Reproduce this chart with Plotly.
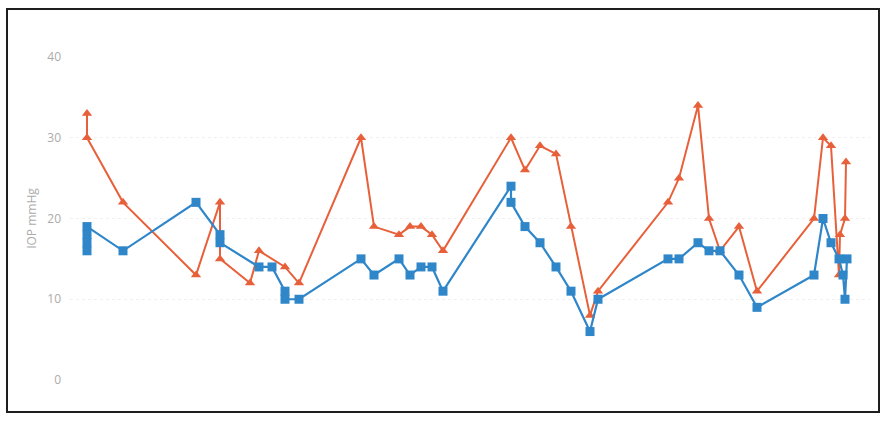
import plotly.graph_objects as go

# time positions (arbitrary units) and IOP values (mmHg)
red_x = [17, 17, 53, 126, 150, 150, 180, 189, 215, 229,
         291, 304, 329, 340, 351, 362, 373,
         441, 455, 470, 486, 501, 520, 528,
         598, 609, 628, 639, 650, 669, 687,
         744, 753, 761, 769, 770, 775, 776]
red_y = [33, 30, 22, 13, 22, 15, 12, 16, 14, 12,
         30, 19, 18, 19, 19, 18, 16,
         30, 26, 29, 28, 19, 8, 11,
         22, 25, 34, 20, 16, 19, 11,
         20, 30, 29, 13, 18, 20, 27]

blue_x = [17, 17, 17, 17, 53,
          126, 150, 150,
          189, 202, 215, 215, 229,
          291, 304, 329, 340, 351, 362, 373,
          441, 441, 455, 470, 486, 501, 520, 528,
          598, 609, 628, 639, 650, 669, 687,
          744, 753, 761, 769, 773, 775, 777]
blue_y = [16, 17, 18, 19, 16,
          22, 18, 17,
          14, 14, 11, 10, 10,
          15, 13, 15, 13, 14, 14, 11,
          24, 22, 19, 17, 14, 11, 6, 10,
          15, 15, 17, 16, 16, 13, 9,
          13, 20, 17, 15, 13, 10, 15]

y_ticks = [0, 10, 20, 30, 40]
y_title = "IOP mmHg"

RED = "#e8603a"
BLUE = "#2f86c9"

fig = go.Figure()
fig.add_trace(go.Scatter(
    x=red_x, y=red_y, mode="lines+markers",
    line=dict(color=RED, width=2),
    marker=dict(symbol="triangle-up", size=9, color=RED),
    showlegend=False, cliponaxis=False))
fig.add_trace(go.Scatter(
    x=blue_x, y=blue_y, mode="lines+markers",
    line=dict(color=BLUE, width=2.2),
    marker=dict(symbol="square", size=9, color=BLUE),
    showlegend=False, cliponaxis=False))

L, R, T, B = 70, 16, 57, 42
W, H = 886, 422
pw, ph = W - L - R, H - T - B

def px_to_paper_x(px):
    return (px - L) / pw

def px_to_paper_y(py):
    return (H - B - py) / ph

fig.add_shape(type="rect", xref="paper", yref="paper",
              x0=px_to_paper_x(7), x1=px_to_paper_x(879),
              y0=px_to_paper_y(412), y1=px_to_paper_y(9),
              line=dict(color="#1e1e1e", width=2), fillcolor="rgba(0,0,0,0)",
              layer="below")

fig.update_layout(
    width=W, height=H,
    margin=dict(l=L, r=R, t=T, b=B),
    paper_bgcolor="white", plot_bgcolor="white",
    font=dict(family="Open Sans, Liberation Sans, sans-serif", color="#ababab"),
    xaxis=dict(range=[0, pw], showgrid=False, zeroline=False,
               showticklabels=False, showline=False, ticks=""),
    yaxis=dict(range=[0, 40], tickvals=y_ticks, showgrid=True,
               gridcolor="#f0f0f0", griddash="dot", gridwidth=1,
               zeroline=False, showline=False, ticks="",
               tickfont=dict(size=12, color="#ababab"),
               ticklabelstandoff=8,
               title=dict(text=y_title, font=dict(size=12, color="#ababab"),
                          standoff=8)),
)

fig.write_html("out.html",
               config={"displayModeBar": False},
               post_script="document.body.style.margin='0';document.body.style.overflow='hidden';")
